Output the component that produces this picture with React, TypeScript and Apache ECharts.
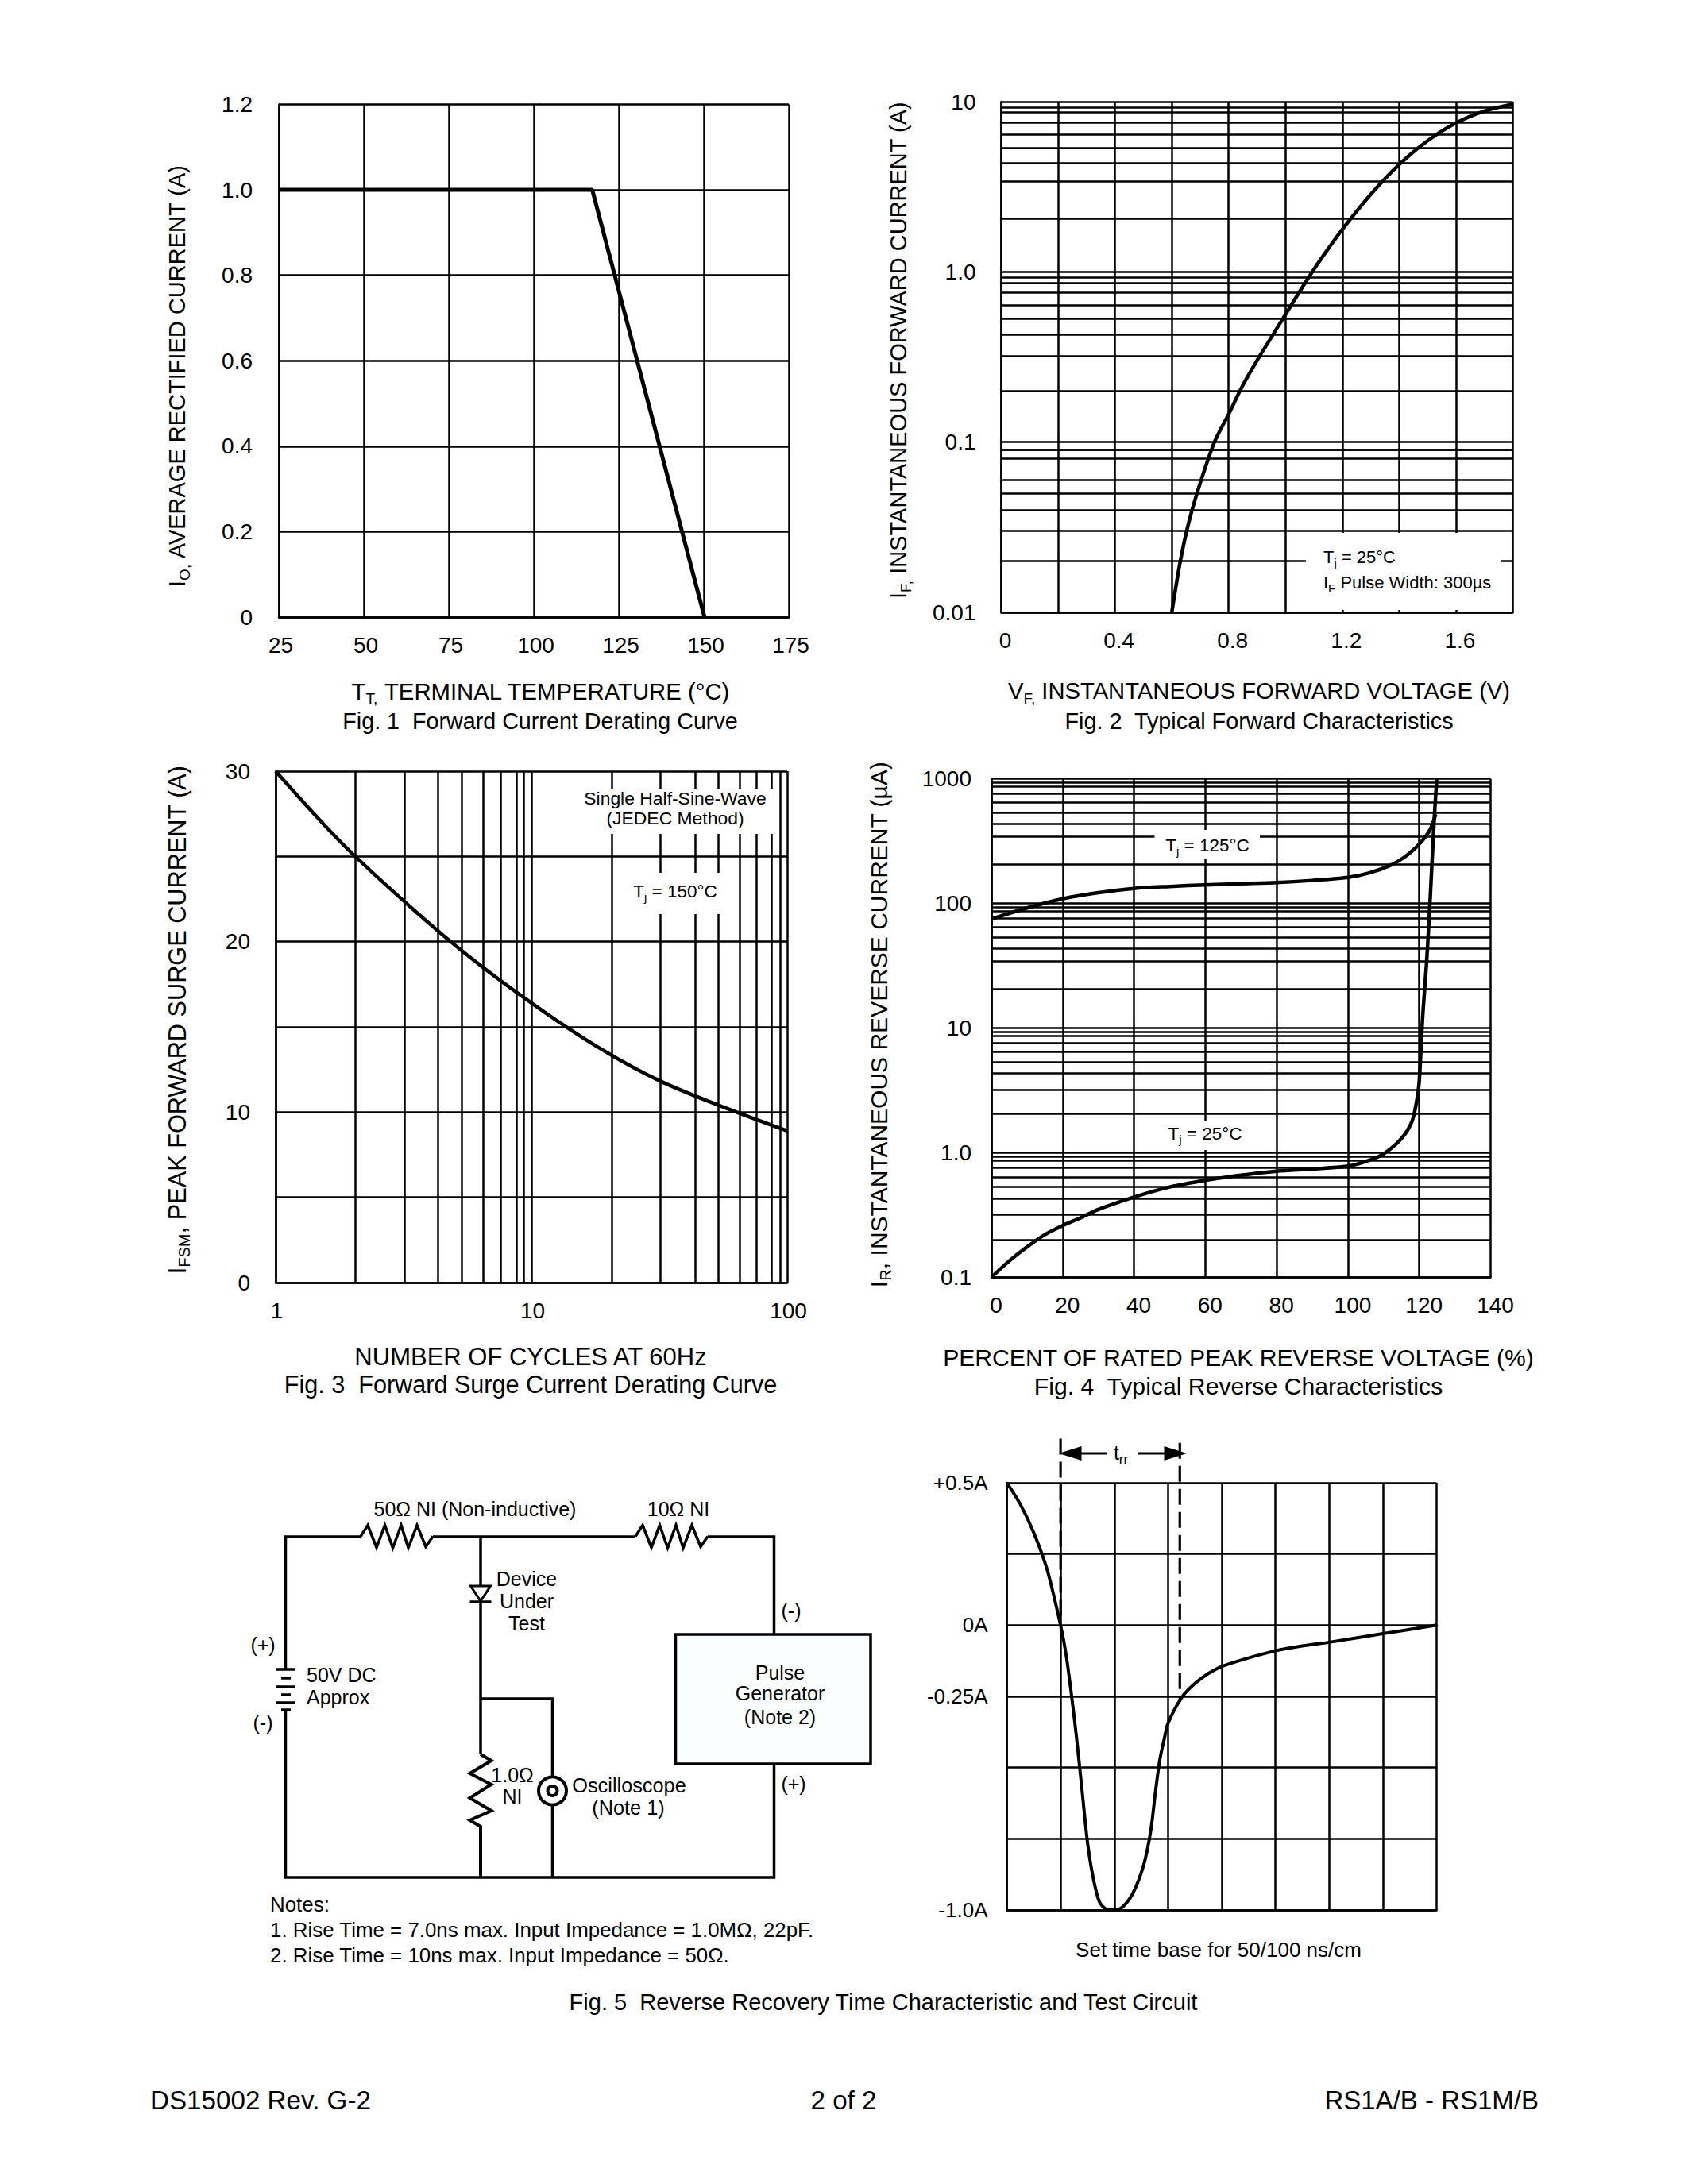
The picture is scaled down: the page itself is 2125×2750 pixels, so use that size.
import React, { useEffect, useRef } from "react";
import * as echarts from "echarts";

const FONT = "Liberation Sans";
const W = 2125, H = 2750;
const GRID_W = 2.5;

// Fig 1
const fig1Curve = [[25, 1], [117.2, 1], [150.2, 0]];
// Fig 2
const fig2Curve = [[0.6, 0.01], [0.63, 0.02], [0.66, 0.0339], [0.7, 0.0575], [0.75, 0.1], [0.8, 0.146], [0.85, 0.216], [0.9, 0.302], [0.95, 0.412], [1.0, 0.562], [1.05, 0.767], [1.1, 1.035], [1.15, 1.365], [1.2, 1.778], [1.3, 2.85], [1.4, 4.27], [1.5, 5.89], [1.6, 7.5], [1.7, 8.81], [1.8, 9.66]];
const fig2Minor = [9.3, 8.64, 7.57, 6.44, 5.32, 4.34, 3.41, 2.05, 0.93, 0.864, 0.757, 0.644, 0.532, 0.434, 0.316, 0.205, 0.093, 0.0864, 0.0757, 0.0644, 0.0532, 0.0434, 0.032, 0.0208];
// Fig 3
const fig3Curve = [[1, 30], [1.78, 25.9], [3.16, 22.4], [5.62, 19.2], [10, 16.4], [17.8, 13.9], [31.6, 11.85], [56.2, 10.3], [100, 8.9]];
const fig3Minor = [2.05, 3.18, 4.32, 5.35, 6.49, 7.58, 8.72, 9.3, 20.6, 31.8, 43.7, 53.9, 65, 76, 87, 93.8];
// Fig 4
const fig4Hot = [[0, 75], [10, 92], [20, 109], [30, 122], [40, 132], [50, 137], [60, 141], [70, 144], [80, 147], [90, 153], [100, 162], [106, 176], [112, 203], [116, 237], [120, 300], [123, 390], [124.6, 520]];
const fig4Cold = [[0, 0.1], [5, 0.135], [10, 0.175], [15, 0.22], [20, 0.26], [25, 0.3], [30, 0.35], [40, 0.44], [50, 0.53], [60, 0.6], [70, 0.66], [80, 0.71], [90, 0.74], [100, 0.78], [105, 0.85], [110, 0.98], [115, 1.3], [118, 1.8], [119.5, 2.85], [120, 3.8], [120.5, 7], [121, 13], [122, 32], [122.7, 70], [123.4, 170], [124.2, 480], [124.9, 1000]];
const fig4Minor = [935, 869, 761, 648, 535, 436, 345, 206, 93, 86.4, 75.7, 64.4, 53.2, 43.4, 34.3, 20.5, 9.3, 8.64, 7.57, 6.44, 5.32, 4.34, 3.19, 2.05, 0.93, 0.864, 0.757, 0.644, 0.532, 0.434, 0.319, 0.205];
// Fig 5
const fig5Curve = [[0, 0.5], [0.25, 0.425], [0.5, 0.325], [0.75, 0.195], [1, 0], [1.1, -0.1], [1.2, -0.24], [1.3, -0.4], [1.4, -0.58], [1.5, -0.76], [1.6, -0.88], [1.72, -0.97], [1.85, -0.997], [2, -1], [2.15, -0.99], [2.35, -0.94], [2.55, -0.84], [2.68, -0.72], [2.77, -0.58], [2.85, -0.47], [2.93, -0.4], [3, -0.345], [3.25, -0.255], [3.5, -0.205], [3.75, -0.17], [4, -0.145], [4.5, -0.115], [5, -0.09], [5.5, -0.073], [6, -0.06], [7, -0.03], [8, 0]];
const fig5DashA = [[1, 0.655], [1, 0]];
const fig5DashB = [[3.22, 0.64], [3.22, -0.27]];

// Tick labels
const fig1XLabels = ["25", "50", "75", "100", "125", "150", "175"];
const fig1YLabels = ["0", "0.2", "0.4", "0.6", "0.8", "1.0", "1.2"];
const fig2XLabels = ["0", "0.4", "0.8", "1.2", "1.6"];
const fig2YLabels = ["0.01", "0.1", "1.0", "10"];
const fig3XLabels = ["1", "10", "100"];
const fig3YLabels = ["0", "10", "20", "30"];
const fig4XLabels = ["0", "20", "40", "60", "80", "100", "120", "140"];
const fig4YLabels = ["0.1", "1.0", "10", "100", "1000"];
const fig5YLabels = ["+0.5A", "0A", "-0.25A", "-1.0A"];

const pick = (list: string[]) => (v: number) =>
  list.find((l) => Math.abs(parseFloat(l) - v) <= Math.abs(v) * 1e-6 + 1e-9) ?? "";

const splitLine = { show: true, showMinLine: true, showMaxLine: true, lineStyle: { color: "#000", width: GRID_W } };
const axisLine = { show: true, onZero: false, lineStyle: { color: "#000", width: GRID_W } };

function axis(type: string, min: number, max: number, interval: number | undefined, labels: any, margin: number, pad = 0) {
  const a: any = {
    type, min, max, splitLine, axisLine, axisTick: { show: false }, minorTick: { show: false }, minorSplitLine: { show: false },
    axisLabel: { show: !!labels, formatter: labels ? pick(labels) : undefined, margin, fontFamily: FONT, fontSize: 28, color: "#000", showMinLabel: true, showMaxLabel: true, hideOverlap: false, padding: [0, 0, 0, pad] },
  };
  if (interval !== undefined) a.interval = interval;
  if (type === "log") a.logBase = 10;
  return a;
}

const curve = (i: number, data: number[][], width = 4.5, smooth = true, extra: any = {}) => ({
  type: "line", xAxisIndex: i, yAxisIndex: i, data, showSymbol: false, symbol: "none", silent: true,
  smooth: smooth ? 0.3 : false, clip: false, z: 5,
  lineStyle: { color: "#000", width }, ...extra,
});
const minorLines = (i: number, key: "xAxis" | "yAxis", values: number[]) => ({
  type: "line", xAxisIndex: i, yAxisIndex: i, data: [], silent: true, z: 2,
  markLine: {
    silent: true, symbol: "none", animation: false, label: { show: false }, z: 2,
    lineStyle: { color: "#000", width: GRID_W, type: "solid" },
    data: values.map((v) => ({ [key]: v })),
  },
});

const richSet = (size: number, subSize: number) => ({
  m: { fontFamily: FONT, fontSize: size, fill: "#000", lineHeight: size + 8, verticalAlign: "middle" },
  s: { fontFamily: FONT, fontSize: subSize, fill: "#000", lineHeight: size + 8, verticalAlign: "bottom" },
});
const txt = (text: string, x: number, y: number, size: number, align = "center", rot = 0, extra: any = {}) => ({
  type: "text", x, y, rotation: rot, z: 30,
  style: { text, fontFamily: FONT, fontSize: size, fill: "#000", align, verticalAlign: "middle", rich: richSet(size, Math.round(size * 0.66)), ...extra },
});
const mask = (x: number, y: number, w: number, h: number) => ({
  type: "rect", z: 20, shape: { x, y, width: w, height: h }, style: { fill: "#fff", stroke: null },
});
const wire = (pts: number[][], w = 3.5) => ({
  type: "polyline", z: 10, shape: { points: pts }, style: { stroke: "#000", lineWidth: w, fill: null, lineJoin: "miter" },
});
const poly = (pts: number[][], fill = "#000") => ({
  type: "polygon", z: 10, shape: { points: pts }, style: { fill, stroke: "#000", lineWidth: 3 },
});

// Circuit geometry
const res1 = [[454, 1934.5], [463, 1920.5], [474, 1948.5], [484.5, 1920.5], [494.5, 1949], [505, 1920.5], [514, 1949], [525, 1920.5], [536, 1947.5], [545, 1934.5]];
const res2 = res1.map(([x, y]) => [x + 346, y]);

export default function App() {
  const ref = useRef<HTMLDivElement>(null);
  useEffect(() => {
    const chart = echarts.init(ref.current!, undefined, { renderer: "svg", width: W, height: H });
    const grids = [
      { left: 351, top: 131.5, width: 642, height: 645.5 },
      { left: 1260.5, top: 128, width: 644, height: 643 },
      { left: 347, top: 971, width: 644, height: 644 },
      { left: 1248, top: 980.7, width: 628.5, height: 627.6 },
      { left: 1267.5, top: 1867, width: 541, height: 538 },
    ];
    const option: any = {
      animation: false,
      backgroundColor: "#fff",
      textStyle: { fontFamily: FONT },
      grid: grids.map((g) => ({ ...g, containLabel: false, show: false })),
      xAxis: [
        axis("value", 25, 175, 25, fig1XLabels, 21, 5),
        axis("value", 0, 1.8, 0.2, fig2XLabels, 21, 10),
        axis("log", 1, 100, undefined, fig3XLabels, 21, 3),
        axis("value", 0, 140, 20, fig4XLabels, 21, 12),
        axis("value", 0, 8, 1, null, 20),
      ].map((a, i) => ({ ...a, gridIndex: i })),
      yAxis: [
        axis("value", 0, 1.2, 0.2, fig1YLabels, 33),
        axis("log", 0.01, 10, undefined, fig2YLabels, 32),
        axis("value", 0, 30, 5, fig3YLabels, 32),
        axis("log", 0.1, 1000, undefined, fig4YLabels, 25),
        { ...axis("value", -1, 0.5, 0.25, null, 25), axisLabel: { show: true, margin: 24, fontFamily: FONT, fontSize: 26, color: "#000",
            formatter: (v: number) => ({ "0.5": fig5YLabels[0], "0": fig5YLabels[1], "-0.25": fig5YLabels[2], "-1": fig5YLabels[3] } as any)[String(v)] ?? "" } },
      ].map((a, i) => ({ ...a, gridIndex: i })),
      series: [
        curve(0, fig1Curve, 5, false),
        minorLines(1, "yAxis", fig2Minor),
        curve(1, fig2Curve),
        minorLines(2, "xAxis", fig3Minor),
        curve(2, fig3Curve),
        minorLines(3, "yAxis", fig4Minor),
        curve(3, fig4Hot),
        curve(3, fig4Cold),
        curve(4, fig5DashA, 3, false, { lineStyle: { color: "#000", width: 3.2, type: [20, 9] }, z: 4 }),
        curve(4, fig5DashB, 3, false, { lineStyle: { color: "#000", width: 3.2, type: [20, 9] }, z: 4 }),
        curve(4, fig5Curve, 4),
      ],
      graphic: {
        elements: [
          // Fig 1
          txt("{m|I}{s|O,}{m| AVERAGE RECTIFIED CURRENT (A)}", 223, 473, 29, "center", Math.PI / 2),
          txt("{m|T}{s|T,}{m| TERMINAL TEMPERATURE (°C)}", 681, 870, 29.3),
          txt("Fig. 1  Forward Current Derating Curve", 680, 908, 28.7),
          // Fig 2
          txt("{m|I}{s|F,}{m| INSTANTANEOUS FORWARD CURRENT (A)}", 1131, 441, 29, "center", Math.PI / 2),
          txt("{m|V}{s|F,}{m| INSTANTANEOUS FORWARD VOLTAGE (V)}", 1585, 870, 29.2),
          txt("Fig. 2  Typical Forward Characteristics", 1585, 908, 28.8),
          mask(1644, 671, 246, 97),
          txt("{m|T}{s|j}{m| = 25°C}", 1666, 701, 22, "left"),
          txt("{m|I}{s|F}{m| Pulse Width: 300µs}", 1666, 733, 22, "left"),
          // Fig 3
          txt("{m|I}{s|FSM}{m|, PEAK FORWARD SURGE CURRENT (A)}", 223, 1284, 30.7, "center", Math.PI / 2),
          txt("NUMBER OF CYCLES AT 60Hz", 668, 1708, 31),
          txt("Fig. 3  Forward Surge Current Derating Curve", 668, 1743, 30.6),
          mask(734, 994, 240, 56),
          txt("Single Half-Sine-Wave", 850, 1005, 22.9),
          txt("(JEDEC Method)", 850, 1030, 22.9),
          mask(781, 1099, 143, 52),
          txt("{m|T}{s|j}{m| = 150°C}", 850, 1122, 22.5),
          // Fig 4
          txt("{m|I}{s|R}{m|, INSTANTANEOUS REVERSE CURRENT (µA)}", 1106, 1290, 30, "center", Math.PI / 2),
          txt("PERCENT OF RATED PEAK REVERSE VOLTAGE (%)", 1559, 1709, 30.1),
          txt("Fig. 4  Typical Reverse Characteristics", 1559, 1745, 30.2),
          mask(1453.5, 1045, 132.5, 37),
          txt("{m|T}{s|j}{m| = 125°C}", 1520, 1064, 22.5),
          mask(1466, 1412, 107, 36),
          txt("{m|T}{s|j}{m| = 25°C}", 1517, 1427, 22.5),
          // Fig 5 waveform
          wire([[1338, 1830], [1394, 1830]], 3),
          wire([[1432, 1830], [1489, 1830]], 3),
          poly([[1338, 1830], [1360, 1823], [1360, 1837]]),
          poly([[1489, 1830], [1467, 1823], [1467, 1837]]),
          txt("{m|t}{s|rr}", 1411, 1829, 25),
          txt("Set time base for 50/100 ns/cm", 1534, 2455, 26),
          txt("Fig. 5  Reverse Recovery Time Characteristic and Test Circuit", 1112, 2521, 29),
          // Circuit
          wire([[372, 2102], [347, 2102]]),
          wire([[359.5, 2102], [359.5, 1935], [454, 1935]]),
          wire(res1),
          wire([[545, 1935], [800, 1935]]),
          wire(res2),
          wire([[891, 1935], [974.5, 1935], [974.5, 2058]]),
          wire([[354, 2113], [366, 2113]]),
          wire([[347, 2124], [372, 2124]]),
          wire([[354, 2134], [366, 2134]]),
          wire([[347, 2144], [372, 2144]]),
          wire([[354, 2153], [366, 2153]]),
          wire([[359.5, 2153], [359.5, 2364], [974.5, 2364], [974.5, 2221]]),
          wire([[605, 1935], [605, 2209]]),
          poly([[592.5, 1997], [617.5, 1997], [605, 2016]], "#fff"),
          wire([[591.5, 2017], [618.5, 2017]]),
          wire([[605, 2209], [618.5, 2217], [591.5, 2233], [618.5, 2247], [591.5, 2264], [618.5, 2280], [591.5, 2292], [605, 2300], [605, 2364]], 4),
          wire([[605, 2139], [695.5, 2139], [695.5, 2237]]),
          wire([[695.5, 2273], [695.5, 2364]]),
          { type: "circle", z: 10, shape: { cx: 695.5, cy: 2255, r: 17.5 }, style: { fill: "#fff", stroke: "#000", lineWidth: 4 } },
          { type: "circle", z: 10, shape: { cx: 695.5, cy: 2255, r: 6 }, style: { fill: "#fff", stroke: "#000", lineWidth: 4 } },
          { type: "rect", z: 10, shape: { x: 850.5, y: 2058, width: 245.5, height: 163 }, style: { fill: "#fbfefe", stroke: "#000", lineWidth: 3.5 } },
          txt("50Ω NI (Non-inductive)", 598, 1900, 25),
          txt("10Ω NI", 854, 1900, 25),
          txt("Device", 663, 1988, 25),
          txt("Under", 663, 2016, 25),
          txt("Test", 663, 2044, 25),
          txt("(-)", 996, 2028, 25),
          txt("(+)", 999, 2246, 25),
          txt("(+)", 331, 2071, 25),
          txt("(-)", 331, 2169, 25),
          txt("50V DC", 386, 2109, 25, "left"),
          txt("Approx", 386, 2137, 25, "left"),
          txt("Pulse", 982, 2106, 25),
          txt("Generator", 982, 2132, 25),
          txt("(Note 2)", 982, 2162, 25),
          txt("1.0Ω", 645, 2235, 25),
          txt("NI", 645, 2262, 25),
          txt("Oscilloscope", 792, 2248, 25.3),
          txt("(Note 1)", 791, 2276, 25.3),
          txt("Notes:", 340, 2398, 25.9, "left"),
          txt("1. Rise Time = 7.0ns max. Input Impedance = 1.0MΩ, 22pF.", 340, 2430, 25.9, "left"),
          txt("2. Rise Time = 10ns max. Input Impedance = 50Ω.", 340, 2462, 25.9, "left"),
          // Footer
          txt("DS15002 Rev. G-2", 189, 2644, 33.2, "left"),
          txt("2 of 2", 1062, 2644, 33.2),
          txt("RS1A/B - RS1M/B", 1937, 2644, 33, "right"),
        ],
      },
    };
    chart.setOption(option);
    return () => chart.dispose();
  }, []);
  return <div ref={ref} style={{ position: "absolute", left: 0, top: 0, width: W, height: H, background: "#fff" }} />;
}
